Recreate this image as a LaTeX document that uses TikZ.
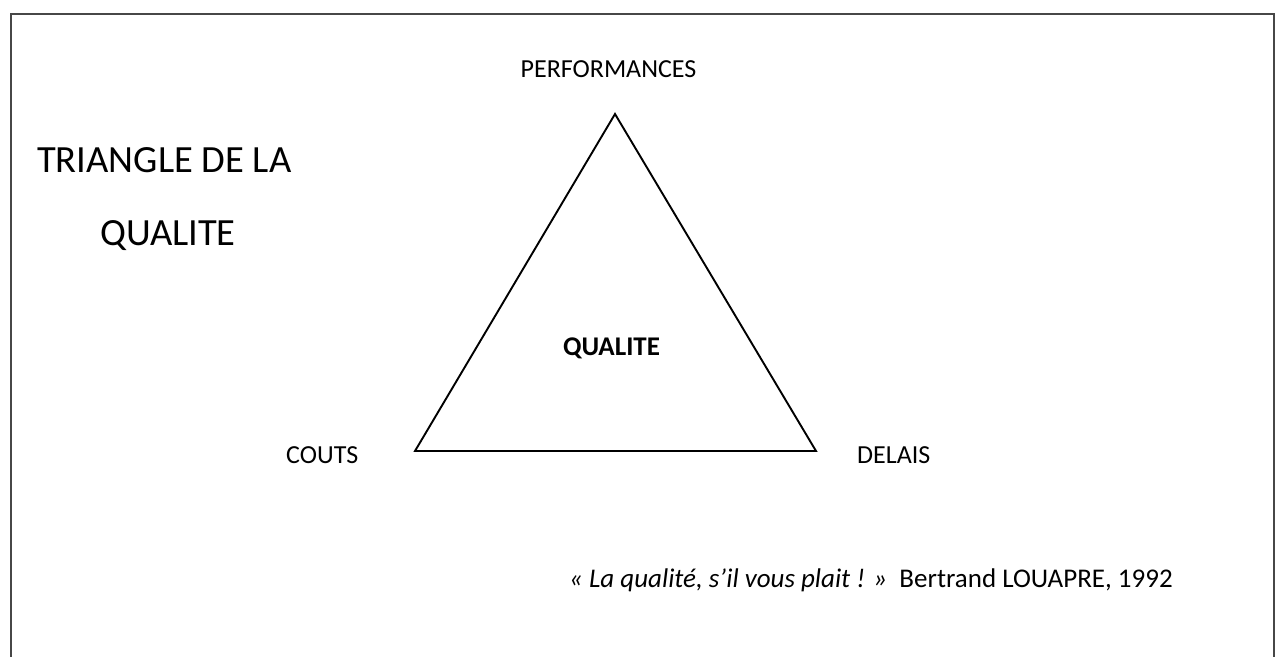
\documentclass[tikz,border=0pt]{standalone}
\usepackage{fontspec}
\setmainfont{Carlito}
\tikzset{
  lbl/.style={inner sep=0pt, font=\fontsize{26}{31}\selectfont},
  ttl/.style={inner sep=0pt, font=\fontsize{38.5}{46}\selectfont},
  edge/.style={line width=1.9pt, line join=miter},
  frame/.style={line width=2.2pt, draw=black!72}
}
\begin{document}
\begin{tikzpicture}[x=1pt,y=-1pt]
\useasboundingbox (0,0) rectangle (1276,656);
\fill[white] (0,0) rectangle (1276,656);
\clip (0,0) rectangle (1276,656);
\draw[frame] (11,14) rectangle (1274,720);
\coordinate (P) at (615,114);
\coordinate (C) at (415,451);
\coordinate (D) at (816,451);
\draw[edge] (P) -- (C) -- (D) -- cycle;
\node[lbl, anchor=base] (perf) at (608.5,77) {PERFORMANCES};
\node[lbl, anchor=base west] (couts) at (286,463) {COUTS};
\node[lbl, anchor=base west] (delais) at (857,463) {DELAIS};
\node[lbl, anchor=base, font=\fontsize{27}{32}\selectfont\bfseries] (q) at (611.5,355) {QUALITE};
\node[ttl, anchor=base west] (t1) at (37,172) {TRIANGLE DE LA};
\node[ttl, anchor=base] (t2) at (168,245) {QUALITE};
\node[lbl, anchor=base west, font=\fontsize{27}{32}\selectfont] (quote) at (569,587) {\textit{« La qualité, s’il vous plait ! »}\ \ Bertrand LOUAPRE, 1992};
\end{tikzpicture}
\end{document}
